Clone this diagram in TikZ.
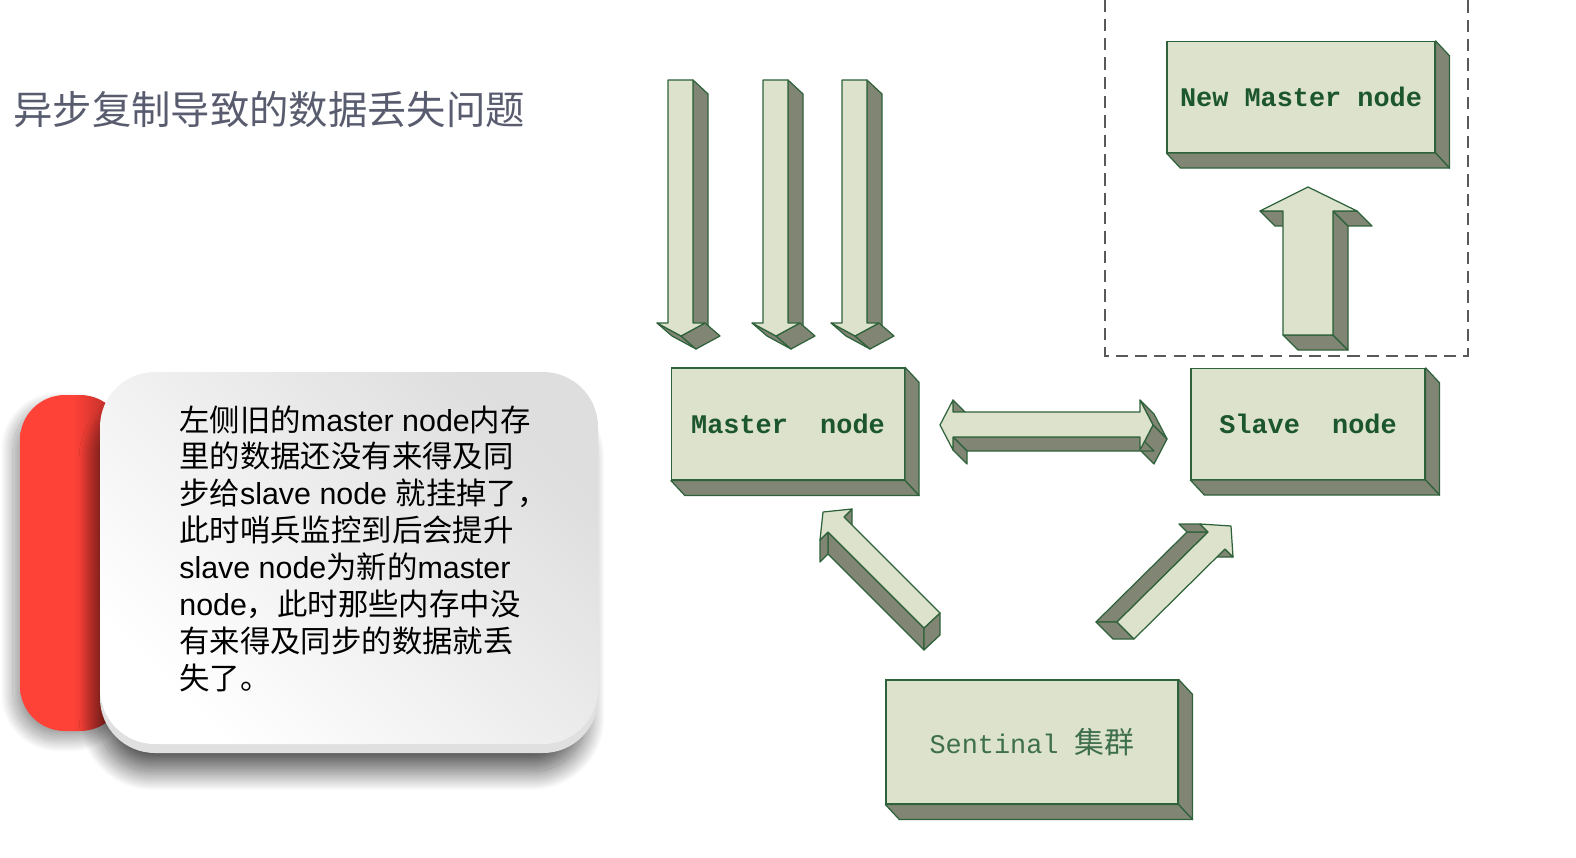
\documentclass[tikz,border=0pt]{standalone}
\usepackage{fontspec}
\setmainfont{Liberation Sans}
\newfontfamily\cjkfont{Noto Sans CJK SC}
\newfontfamily\monofont{Liberation Mono}
\usetikzlibrary{calc, shadows.blur}

\definecolor{facegreen}{RGB}{220,226,204}
\definecolor{sidegray}{RGB}{128,133,116}
\definecolor{edgegreen}{RGB}{46,98,58}
\definecolor{textgreen}{RGB}{28,86,44}
\definecolor{titlegray}{RGB}{88,92,110}
\definecolor{cardred}{RGB}{255,66,56}
\definecolor{cardreddark}{RGB}{165,40,36}

% chinese run inside latin text
\newcommand{\zh}[1]{{\cjkfont #1}}
% one extruded face of a 3d block: edge #1--#2 pushed by #3
\newcommand{\sideface}[3]{\filldraw[sideface] #1 -- #2 -- ($#2+#3$) -- ($#1+#3$) -- cycle;}

\begin{document}
\begin{tikzpicture}[x=0.02cm, y=-0.02cm,
  sideface/.style={fill=sidegray, draw=edgegreen, line width=0.7pt, line join=round},
  frontface/.style={fill=facegreen, draw=edgegreen, line width=0.7pt, line join=round},
  nodebox/.style={fill=facegreen, draw=edgegreen, line width=0.7pt, inner sep=0pt,
                  text=textgreen, font=\fontsize{15.3}{18}\selectfont\monofont\bfseries},
  promoframe/.style={draw=black!65, line width=0.9pt, dash pattern=on 7pt off 4pt}]
  \useasboundingbox (0,0) rectangle (1576,858);

  % title
  \node[anchor=west, inner sep=0pt, text=titlegray,
        font=\fontsize{22.4}{26}\selectfont\cjkfont] (title) at (13,110) {异步复制导致的数据丢失问题};

  % note card: red tab behind, white card in front
  \path[blur shadow={shadow xshift=-4pt, shadow yshift=-5pt, shadow blur radius=7pt,
                     shadow blur steps=40, shadow opacity=40},
        left color=cardred, right color=cardreddark, middle color=cardred, rounded corners=0.9cm]
    (20,395) rectangle (125,731);
  \path[blur shadow={shadow xshift=-4pt, shadow yshift=-13pt, shadow blur radius=11pt,
                     shadow blur steps=40, shadow opacity=65, shadow scale=0.98},
        fill=black!12, rounded corners=1.1cm] (100,378) rectangle (598,753);
  \path[top color=black!13, bottom color=white, shading angle=-45, rounded corners=1.1cm]
    (100,372) rectangle (598,744);
  \node[anchor=north west, align=left, inner sep=0pt,
        font=\fontsize{17.3}{21}\selectfont] (note) at (179,405)
    {\zh{左侧旧的}master node\zh{内存}\\
     \zh{里的数据还没有来得及同}\\
     \zh{步给}slave node \zh{就挂掉了，}\\
     \zh{此时哨兵监控到后会提升}\\
     slave node\zh{为新的}master\\
     node\zh{，此时那些内存中没}\\
     \zh{有来得及同步的数据就丢}\\
     \zh{失了。}};

  % dashed frame round the promotion
  \draw[promoframe] (1105,-20) rectangle (1468,356);

  % boxes
  \node[nodebox, minimum width=4.66cm, minimum height=2.24cm] (master) at (788,424) {Master\ \ node};
  \node[nodebox, minimum width=4.68cm, minimum height=2.22cm] (slave) at (1308,424) {Slave\ \ node};
  \node[nodebox, minimum width=5.36cm, minimum height=2.22cm] (newmaster) at (1301,97) {New Master node};
  \node[nodebox, minimum width=5.84cm, minimum height=2.48cm, text=textgreen!85!white,
        font=\fontsize{15.3}{18}\selectfont\monofont] (sentinal) at (1032,742)
    {Sentinal {\fontsize{17}{18}\selectfont\cjkfont 集群}};

  \foreach \b in {master, slave, newmaster, sentinal} {
    \sideface{(\b.north east)}{(\b.south east)}{(14,15)}
    \sideface{(\b.south west)}{(\b.south east)}{(14,15)}
  }

  % writes coming into the old master
  \foreach \x in {668, 763, 842} {
    \sideface{(\x+25,80)}{(\x+25,323)}{(15,14)}
    \sideface{(\x-11,323)}{(\x+13,336)}{(15,13)}
    \sideface{(\x+37,323)}{(\x+13,336)}{(15,13)}
    \filldraw[frontface] (\x,80) -- (\x+25,80) -- (\x+25,323) -- (\x+37,323)
      -- (\x+13,336) -- (\x-11,323) -- (\x,323) -- cycle;
  }

  % master <-> slave
  \sideface{(953,400)}{(953,412)}{(14,14)}
  \sideface{(1140,400)}{(1153,425)}{(14,14)}
  \sideface{(1153,425)}{(1140,450)}{(14,14)}
  \sideface{(953,437)}{(1140,437)}{(14,14)}
  \sideface{(953,437)}{(953,450)}{(14,14)}
  \filldraw[frontface] (940,425) -- (953,400) -- (953,412) -- (1140,412) -- (1140,400)
    -- (1153,425) -- (1140,450) -- (1140,437) -- (953,437) -- (953,450) -- cycle;

  % slave promoted
  \sideface{(1283,335)}{(1333,335)}{(15,15)}
  \sideface{(1333,211)}{(1333,335)}{(15,15)}
  \sideface{(1260,211)}{(1283,211)}{(15,15)}
  \sideface{(1333,211)}{(1357,211)}{(15,15)}
  \filldraw[frontface] (1283,335) -- (1283,211) -- (1260,211) -- (1308,187)
    -- (1357,211) -- (1333,211) -- (1333,335) -- cycle;

  % sentinal watching master
  \sideface{(924,628)}{(828,532)}{(0,22)}
  \sideface{(828,532)}{(820,540)}{(0,22)}
  \sideface{(852,509)}{(844,517)}{(0,22)}
  \sideface{(940,613)}{(924,628)}{(0,22)}
  \filldraw[frontface] (924,628) -- (828,532) -- (820,540) -- (823,512)
    -- (852,509) -- (844,517) -- (940,613) -- cycle;

  % sentinal watching slave
  \sideface{(1117,622)}{(1208,532)}{(-21,0)}
  \sideface{(1208,532)}{(1200,524)}{(-21,0)}
  \sideface{(1233,557)}{(1225,549)}{(-21,0)}
  \sideface{(1134,639)}{(1117,622)}{(-21,0)}
  \filldraw[frontface] (1117,622) -- (1208,532) -- (1200,524) -- (1231,526)
    -- (1233,557) -- (1225,549) -- (1134,639) -- cycle;
\end{tikzpicture}
\end{document}
